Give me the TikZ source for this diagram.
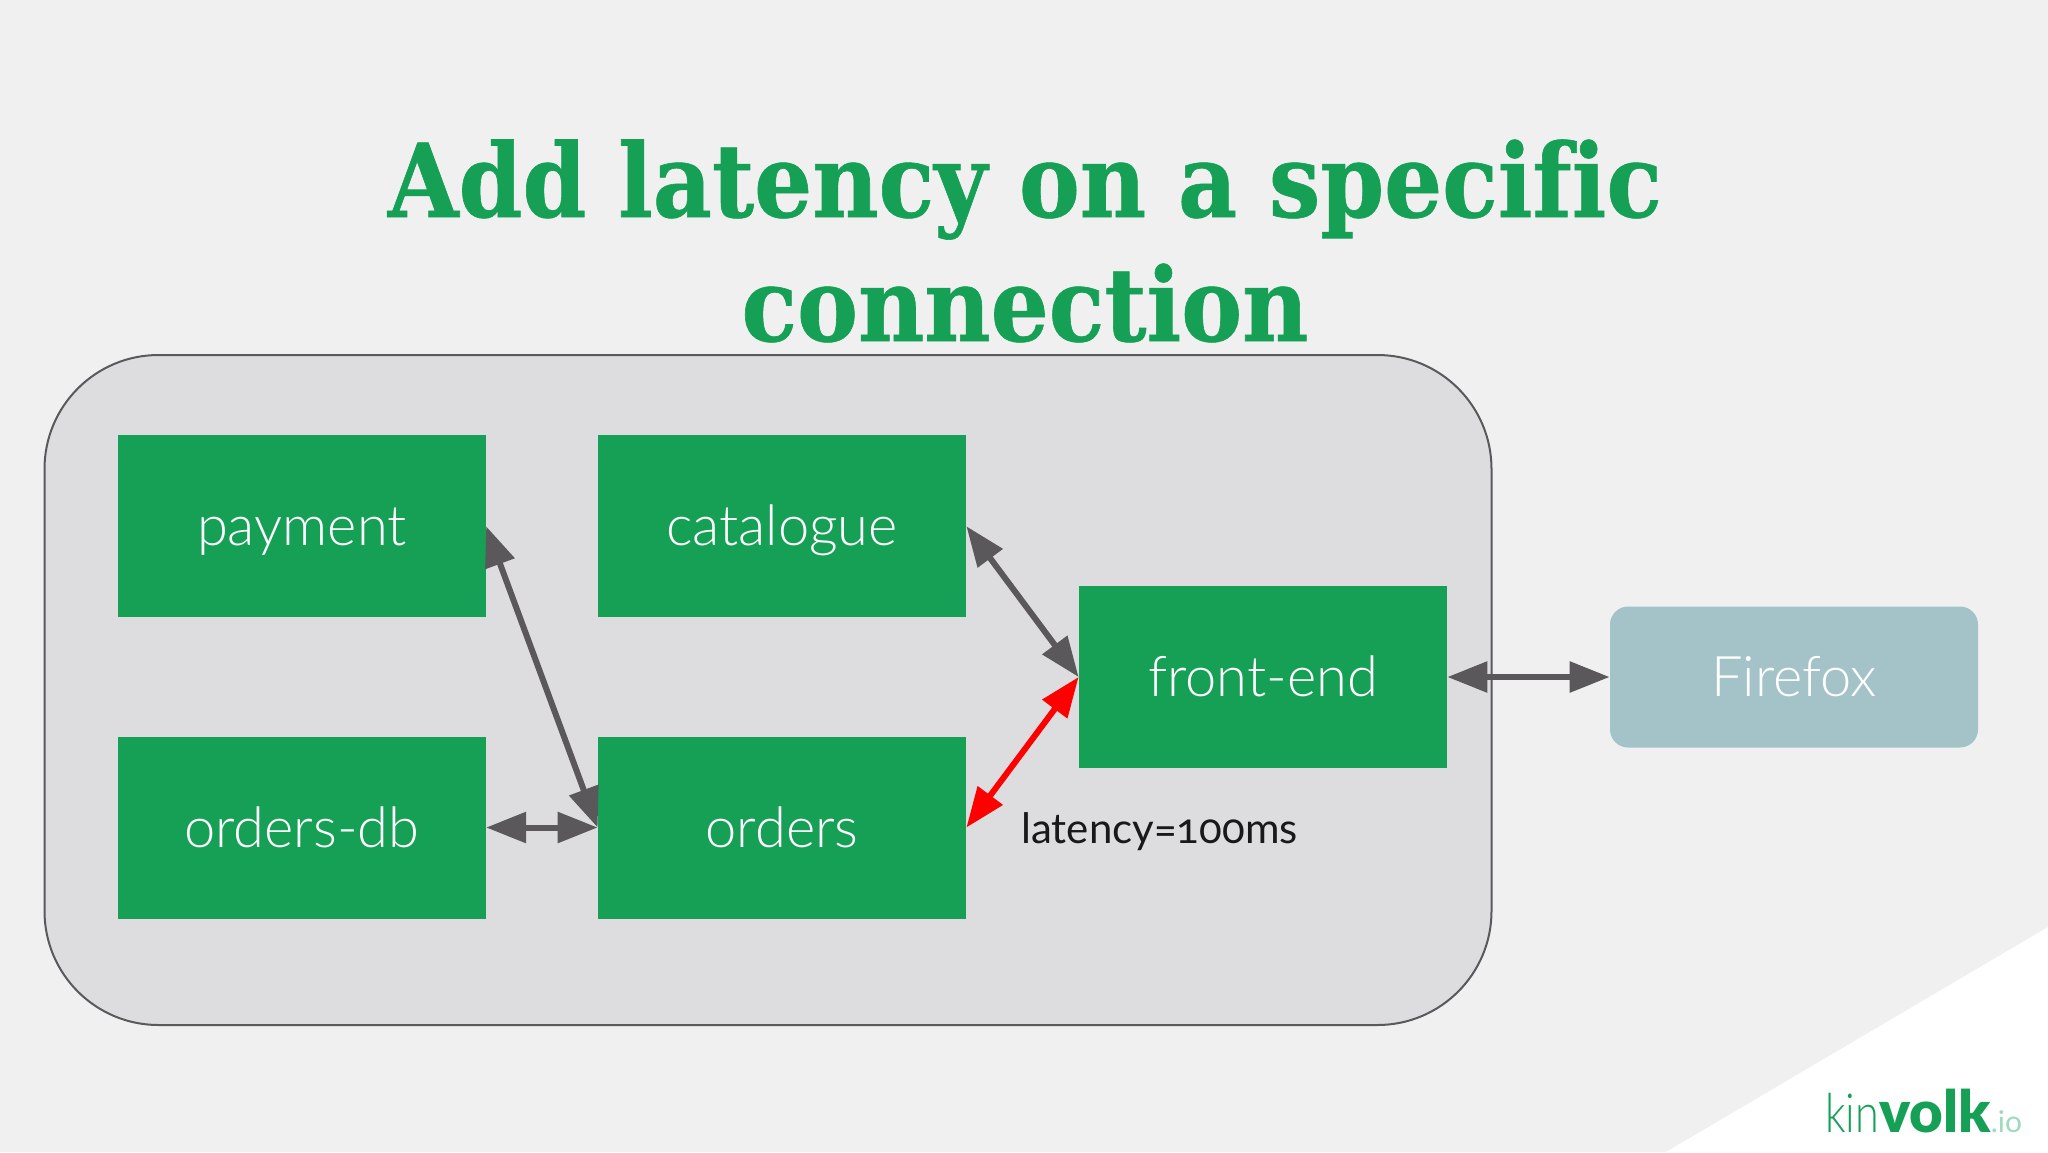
\documentclass[tikz,border=0pt]{standalone}
\usepackage{fontspec}
\usepackage{tikz}
\usetikzlibrary{arrows.meta}
\setmainfont{Lato Light}
\newfontfamily\titlefont{DejaVu Serif Bold}[FakeStretch=0.895, FakeBold=0.6, Ligatures=NoCommon]
\newfontfamily\labelfont{Lato}[Numbers=OldStyle]
\newfontfamily\kinfont{Lato Light}[FakeStretch=0.8]
\newfontfamily\volkfont{Lato Black}
\definecolor{kvgreen}{RGB}{21, 160, 85}
\definecolor{page}{RGB}{240, 240, 241}
\definecolor{pod}{RGB}{221, 220, 222}
\definecolor{edge}{RGB}{90, 88, 91}
\definecolor{browser}{RGB}{163, 195, 201}
\definecolor{iotext}{RGB}{160, 218, 190}
\tikzset{
  service/.style={fill=kvgreen, text=white, minimum width=184pt, minimum height=91pt,
    inner sep=0pt, text height=25.8pt, text depth=6.2pt, font=\fontsize{28}{32}\selectfont},
  link/.style={edge, line width=3pt, {Triangle[length=20pt, width=15pt]}-{Triangle[length=20pt, width=15pt]}}
}

\begin{document}
\begin{tikzpicture}[x=0.5pt, y=-0.5pt]

  \useasboundingbox (0, 0) rectangle (2048, 1152);
  \fill[page] (0, 0) rectangle (2048, 1152);
  \fill[white] (2048, 927) -- (2048, 1152) -- (1666, 1152) -- cycle;

  \node[anchor=base, align=center, text=kvgreen, font=\titlefont\fontsize{51}{62}\selectfont] (heading) at (1025, 341)
    {Add latency on a specific\\connection};

  \draw[draw=edge, fill=pod, line width=1pt, rounded corners=57pt] (44.5, 355) rectangle (1491.5, 1025);

  \foreach \name/\x/\y/\txt in {payment/301.75/526.25/payment, catalogue/782/526.25/catalogue,
      ordersdb/301.75/827.5/orders-db, orders/782/827.5/orders, frontend/1263/677/front-end} {
    \node[service] (\name) at (\x, \y) {\txt};
  }
  \node[service, fill=browser, rounded corners=9pt, minimum height=70.5pt] (firefox) at (1794, 677) {Firefox};

  \node[anchor=base west, inner sep=0pt, text=black!90, font=\labelfont\fontsize{21}{24}\selectfont] (latency) at (1021, 843) {latency=100ms};

  \foreach \a/\b in {payment/orders, catalogue/frontend} {
    \draw[link] (\a.east) -- (\b.west);
  }
  \draw[link] (ordersdb) -- (orders);
  \draw[link] (frontend) -- (firefox);
  \draw[link, red] (orders.east) -- (frontend.west);

  \node[anchor=base west, inner sep=0pt, text=kvgreen, font=\fontsize{27}{32}\selectfont] (logo) at (1825, 1132)
    {{\kinfont kin}{\volkfont\fontsize{29}{32}\selectfont volk}\textcolor{iotext}{\labelfont\fontsize{15}{20}\selectfont .io}};

\end{tikzpicture}
\end{document}
